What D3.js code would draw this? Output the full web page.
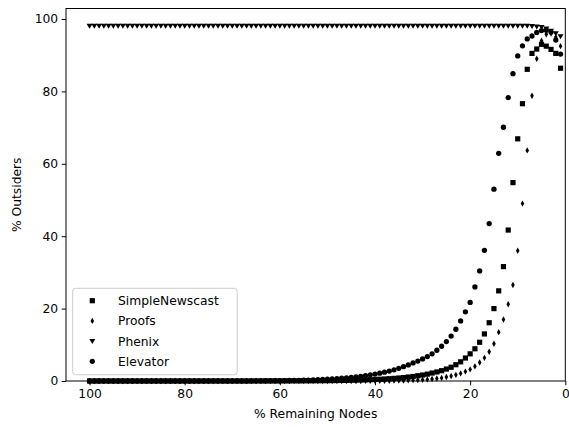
<!DOCTYPE html>
<html><head><meta charset="utf-8">
<script src="https://cdn.jsdelivr.net/npm/d3@7"></script>
<style>body{margin:0;background:#fff}svg{display:block}text{font-family:"DejaVu Sans",sans-serif}</style>
</head><body><svg id="c" width="569" height="427"></svg>
<script>
// % remaining nodes (x), from 100 down to 1
const remaining = [
100,99,98,97,96,95,94,93,92,91,
90,89,88,87,86,85,84,83,82,81,
80,79,78,77,76,75,74,73,72,71,
70,69,68,67,66,65,64,63,62,61,
60,59,58,57,56,55,54,53,52,51,
50,49,48,47,46,45,44,43,42,41,
40,39,38,37,36,35,34,33,32,31,
30,29,28,27,26,25,24,23,22,21,
20,19,18,17,16,15,14,13,12,11,
10,9,8,7,6,5,4,3,2,1];

const simpleNewscast = [
0,0,0,0,0,0,0,0,0,0,
0,0,0,0,0,0,0,0,0,0,
0,0,0,0,0,0,0,0,0,0,
0,0,0,0,0,0.01,0.01,0.01,0.01,0.01,
0.02,0.03,0.03,0.04,0.04,0.05,0.06,0.07,0.08,0.09,
0.1,0.12,0.14,0.16,0.18,0.21,0.24,0.28,0.32,0.37,
0.42,0.48,0.55,0.63,0.72,0.83,0.95,1.1,1.25,1.45,
1.65,1.9,2.2,2.5,2.85,3.3,3.8,4.5,5.3,6.35,
7.5,8.9,10.7,13.0,16.1,20.0,24.9,31.6,41.7,54.8,
66.9,76.6,86.1,90.5,91.7,93.0,92.5,91.6,90.5,86.4];

const proofs = [
0,0,0,0,0,0,0,0,0,0,
0,0,0,0,0,0,0,0,0,0,
0,0,0,0,0,0,0,0,0,0,
0,0,0,0,0,0,0,0,0,0,
0,0,0,0,0,0,0,0,0,0,
0,0,0,0,0,0.01,0.02,0.02,0.03,0.03,
0.04,0.05,0.06,0.08,0.1,0.12,0.15,0.19,0.23,0.29,
0.36,0.44,0.55,0.68,0.85,1.1,1.4,1.7,2.1,2.6,
3.2,4.05,5.1,6.4,8.1,10.3,13.5,17.0,21.2,26.5,
36.0,49.0,63.7,78.8,89.0,94.0,95.8,96.0,95.0,92.5];

const phenix = [
98.1,98.1,98.1,98.1,98.1,98.1,98.1,98.1,98.1,98.1,
98.1,98.1,98.1,98.1,98.1,98.1,98.1,98.1,98.1,98.1,
98.1,98.1,98.1,98.1,98.1,98.1,98.1,98.1,98.1,98.1,
98.1,98.1,98.1,98.1,98.1,98.1,98.1,98.1,98.1,98.1,
98.1,98.1,98.1,98.1,98.1,98.1,98.1,98.1,98.1,98.1,
98.1,98.1,98.1,98.1,98.1,98.1,98.1,98.1,98.1,98.1,
98.1,98.1,98.1,98.1,98.1,98.1,98.1,98.1,98.1,98.1,
98.1,98.1,98.1,98.1,98.1,98.1,98.1,98.1,98.1,98.1,
98.1,98.1,98.1,98.1,98.1,98.1,98.1,98.1,98.1,98.1,
98.1,98.1,98.1,98.0,97.9,97.7,97.3,96.7,96.0,95.2];

const elevator = [
0,0,0,0,0,0,0,0,0,0,
0,0,0,0,0,0,0,0,0,0,
0,0,0,0,0,0.01,0.01,0.01,0.01,0.01,
0.02,0.02,0.03,0.03,0.04,0.05,0.06,0.07,0.08,0.09,
0.1,0.12,0.14,0.17,0.2,0.23,0.27,0.31,0.36,0.42,
0.49,0.57,0.66,0.76,0.88,1.0,1.15,1.3,1.5,1.7,
1.9,2.15,2.45,2.75,3.1,3.5,3.95,4.45,5.0,5.5,
6.1,6.75,7.5,8.5,9.6,10.9,12.4,14.3,16.6,19.1,
21.7,26.0,30.4,36.1,43.5,53.0,62.9,70.1,78.3,84.9,
89.8,92.6,94.5,95.3,96.3,96.8,96.9,96.4,94.2,90.3];

const seriesNames = ["SimpleNewscast","Proofs","Phenix","Elevator"];
const seriesValues = [simpleNewscast, proofs, phenix, elevator];
const xTicks = [100,80,60,40,20,0];
const yTicks = [0,20,40,60,80,100];

const svg = d3.select("#c");
const L=66, R=565.3, T=8.5, B=381;
const x = d3.scaleLinear().domain([104.95,0]).range([L,R]);
const y = d3.scaleLinear().domain([0,102.9]).range([B,T]);

const shapes = {
  SimpleNewscast: "M-2.6,-2.6H2.6V2.6H-2.6Z",
  Proofs: "M0,-3.2L1.8,0L0,3.2L-1.8,0Z",
  Phenix: "M-3,-2.2H3L0,2.8Z",
  Elevator: d3.symbol(d3.symbolCircle, 22)()
};

const g = svg.append("g");
seriesNames.forEach((name,i)=>{
  g.append("g").selectAll("path").data(remaining.map((r,j)=>[r,seriesValues[i][j]]))
   .join("path").attr("d",shapes[name]).attr("fill","#000")
   .attr("transform",d=>`translate(${x(d[0])},${y(d[1])})`);
});

// frame
svg.append("rect").attr("x",L).attr("y",T).attr("width",R-L).attr("height",B-T)
  .attr("fill","none").attr("stroke","#000").attr("stroke-width",1);

const xa = svg.append("g").attr("transform",`translate(0,${B})`)
  .call(d3.axisBottom(x).tickValues(xTicks).tickSize(4.3).tickPadding(3.5).tickFormat(d3.format("d")));
const ya = svg.append("g").attr("transform",`translate(${L},0)`)
  .call(d3.axisLeft(y).tickValues(yTicks).tickSize(4.3).tickPadding(3.5).tickFormat(d3.format("d")));
[xa,ya].forEach(a=>{a.select(".domain").remove();
  a.selectAll("text").attr("font-size","12.3px").attr("font-family","DejaVu Sans").attr("fill","#000");
  a.selectAll("line").attr("stroke","#000").attr("stroke-width",1);});

svg.append("text").attr("x",(L+R)/2).attr("y",418).attr("text-anchor","middle")
  .attr("font-size","12.3px").text("% Remaining Nodes");
svg.append("text").attr("transform",`translate(21,${(T+B)/2}) rotate(-90)`).attr("text-anchor","middle")
  .attr("font-size","12.3px").text("% Outsiders");

// legend
const lg = svg.append("g");
lg.append("rect").attr("x",72.7).attr("y",288.3).attr("width",164.5).attr("height",86.5).attr("rx",3)
  .attr("fill","#fff").attr("fill-opacity",0.8).attr("stroke","#ccc").attr("stroke-width",1);
seriesNames.forEach((name,i)=>{
  const yy = 300.7 + i*20.2;
  lg.append("path").attr("d",shapes[name]).attr("fill","#000").attr("transform",`translate(92.3,${yy})`);
  lg.append("text").attr("x",118).attr("y",yy).attr("dy","0.36em").attr("font-size","12.3px").text(name);
});
</script></body></html>
